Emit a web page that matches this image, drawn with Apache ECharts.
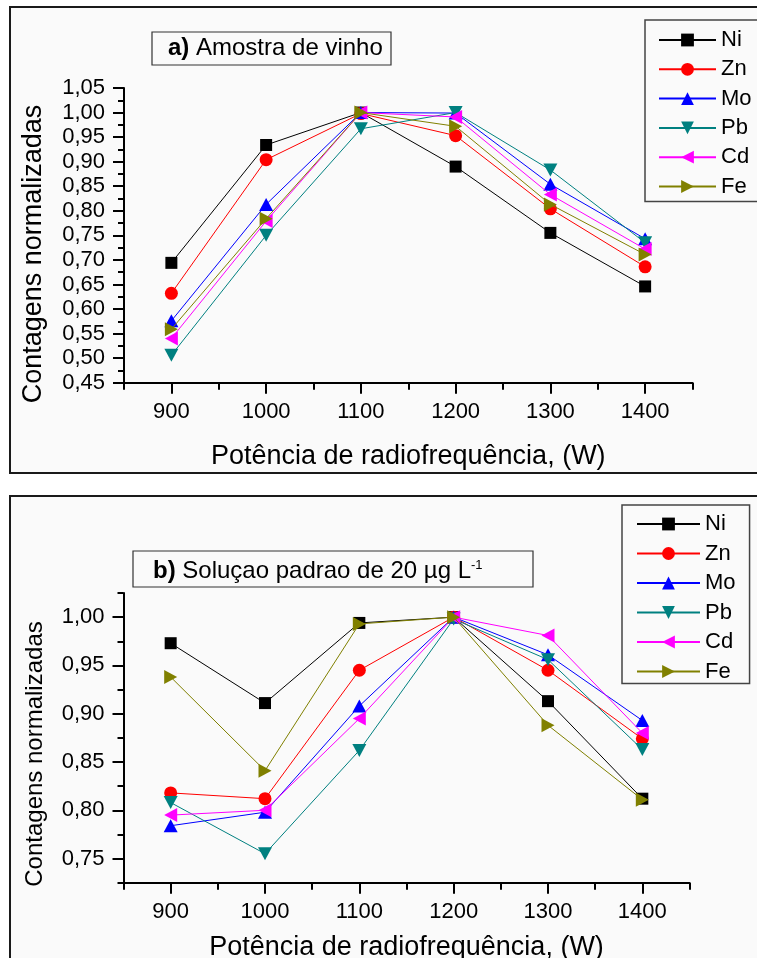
<!DOCTYPE html>
<html><head><meta charset="utf-8">
<script src="https://cdn.jsdelivr.net/npm/echarts@6/dist/echarts.min.js"></script>
<style>html,body{margin:0;padding:0;background:#fff}#c{width:757px;height:958px}</style>
</head><body><div id="c"></div>
<script>
// ---- data ----
const powers = [900, 1000, 1100, 1200, 1300, 1400];
const elements = ['Ni', 'Zn', 'Mo', 'Pb', 'Cd', 'Fe'];

// a) Amostra de vinho
const niA = [0.694, 0.934, 1.000, 0.890, 0.755, 0.646];
const znA = [0.632, 0.904, 0.998, 0.953, 0.804, 0.686];
const moA = [0.576, 0.813, 1.000, 0.999, 0.854, 0.743];
const pbA = [0.506, 0.750, 0.967, 1.000, 0.883, 0.735];
const cdA = [0.540, 0.779, 1.000, 0.991, 0.833, 0.722];
const feA = [0.559, 0.784, 1.000, 0.972, 0.813, 0.711];

// b) Soluçao padrao de 20 µg L-1
const niB = [0.973, 0.911, 0.994, 1.000, 0.913, 0.812];
const znB = [0.818, 0.812, 0.945, 1.000, 0.945, 0.874];
const moB = [0.784, 0.798, 0.908, 1.000, 0.961, 0.893];
const pbB = [0.808, 0.755, 0.862, 0.998, 0.956, 0.863];
const cdB = [0.795, 0.800, 0.895, 1.000, 0.981, 0.880];
const feB = [0.938, 0.841, 0.993, 1.000, 0.888, 0.811];

// tick labels
const xMajorTicks = [900, 1000, 1100, 1200, 1300, 1400];
const xMinorTicks = [850, 950, 1050, 1150, 1250, 1350, 1450];
const yTicksA = [0.45, 0.50, 0.55, 0.60, 0.65, 0.70, 0.75, 0.80, 0.85, 0.90, 0.95, 1.00, 1.05];
const yMinorA = [0.475, 0.525, 0.575, 0.625, 0.675, 0.725, 0.775, 0.825, 0.875, 0.925, 0.975, 1.025];
const yTicksB = [0.75, 0.80, 0.85, 0.90, 0.95, 1.00];
const yMinorB = [0.725, 0.775, 0.825, 0.875, 0.925, 0.975, 1.025];

const titleA = 'Amostra de vinho';
const titleB = 'Soluçao padrao de 20 µg L';
const xName = 'Potência de radiofrequência, (W)';
const yName = 'Contagens normalizadas';

// ---- styles ----
const FONT = '"Liberation Sans", Arial, sans-serif';
const colors = ['#000000', '#ff0000', '#0000ff', '#008080', '#ff00ff', '#808000'];
const symbols = [
  'rect', 'circle', 'triangle',
  'path://M0,0 L10,0 L5,10 Z',
  'path://M10,0 L10,10 L0,5 Z',
  'path://M0,0 L10,5 L0,10 Z'
];
const symSizes = [[12, 12], [13, 13], [14, 13], [14, 13], [13, 14], [13, 14]];

const seriesA = [niA, znA, moA, pbA, cdA, feA];
const seriesB = [niB, znB, moB, pbB, cdB, feB];

function pairs(vals) { return powers.map((p, i) => [p, vals[i]]); }
function fmtY(v) { return v.toFixed(2).replace('.', ','); }
function fmtX(v) { return String(Math.round(v)); }

function xAxes(grid, gap) {
  return [{
    gridIndex: grid, type: 'value', min: 850, max: 1450, position: 'bottom',
    axisLine: { onZero: false, lineStyle: { color: '#000', width: 2 } },
    axisTick: { customValues: xMajorTicks, length: 11, lineStyle: { color: '#000', width: 2 } },
    axisLabel: { customValues: xMajorTicks, formatter: fmtX, fontSize: 22, fontFamily: FONT, color: '#000', margin: 18 },
    splitLine: { show: false },
    name: xName, nameLocation: 'middle', nameGap: gap,
    nameTextStyle: { fontSize: 27, fontFamily: FONT, color: '#000' }
  }, {
    gridIndex: grid, type: 'value', min: 850, max: 1450, position: 'bottom',
    axisLine: { show: false, onZero: false },
    axisTick: { customValues: xMinorTicks, length: 7, lineStyle: { color: '#000', width: 2 } },
    axisLabel: { show: false }, splitLine: { show: false }
  }];
}
function yAxes(grid, min, max, major, minor) {
  return [{
    gridIndex: grid, type: 'value', min: min, max: max, position: 'left',
    axisLine: { show: true, onZero: false, lineStyle: { color: '#000', width: 2 } },
    axisTick: { show: true, customValues: major, length: 11, lineStyle: { color: '#000', width: 2 } },
    axisLabel: { customValues: major, formatter: fmtY, fontSize: 22, fontFamily: FONT, color: '#000', margin: 19 },
    splitLine: { show: false }
  }, {
    gridIndex: grid, type: 'value', min: min, max: max, position: 'left', offset: 0,
    axisLine: { show: false, onZero: false },
    axisTick: { show: true, customValues: minor, length: 6, lineStyle: { color: '#000', width: 2 } },
    axisLabel: { show: false }, splitLine: { show: false }
  }];
}

const series = [];
[seriesA, seriesB].forEach((set, g) => {
  set.forEach((vals, i) => {
    series.push({
      name: elements[i], type: 'line',
      xAxisIndex: g * 2, yAxisIndex: g * 2,
      data: pairs(vals),
      symbol: symbols[i], symbolSize: symSizes[i],
      showSymbol: true,
      lineStyle: { color: colors[i], width: 1 },
      itemStyle: { color: colors[i] },
      emphasis: { disabled: true },
      z: 3 + i
    });
  });
});

function legend(left, top, padding, itemWidth, gap) {
  return {
    data: elements, orient: 'vertical', left: left, top: top, padding: padding,
    itemWidth: itemWidth, itemHeight: 16, itemGap: gap,
    borderColor: '#444', borderWidth: 1.5, backgroundColor: 'transparent',
    selectedMode: false,
    textStyle: { fontSize: 22, fontFamily: FONT, color: '#000', lineHeight: 22 }
  };
}

const option = {
  animation: false,
  backgroundColor: '#ffffff',
  grid: [
    { left: 124, top: 88, width: 568.5, height: 294.7, outerBoundsMode: 'none', containLabel: false },
    { left: 123.5, top: 593, width: 566, height: 289.7, outerBoundsMode: 'none', containLabel: false }
  ],
  xAxis: [...xAxes(0, 60), ...xAxes(1, 51)],
  yAxis: [...yAxes(0, 0.45, 1.05, yTicksA, yMinorA), ...yAxes(1, 0.725, 1.025, yTicksB, yMinorB)],
  legend: [
    legend(645, 20, [9, 8, 4, 13], 57, 7.3),
    legend(622, 505, [8, 14, 1, 14], 63, 7.5)
  ],
  graphic: [
    { type: 'rect', z: -100, shape: { x: 10, y: 7, width: 800, height: 466 },
      style: { fill: '#fafafa', stroke: '#1a1a1a', lineWidth: 2 } },
    { type: 'rect', z: -100, shape: { x: 10, y: 496, width: 800, height: 500 },
      style: { fill: '#fafafa', stroke: '#1a1a1a', lineWidth: 2 } },
    { type: 'rect', z: 50, shape: { x: 152, y: 32, width: 239, height: 33 },
      style: { fill: '#fafafa', stroke: '#333', lineWidth: 1.2 } },
    { type: 'text', z: 51, x: 168, y: 48.5,
      style: { text: '{b|a)} ' + titleA, fontSize: 24, fontFamily: FONT, fill: '#000',
        verticalAlign: 'middle', align: 'left',
        rich: { b: { fontWeight: 'bold', fontSize: 24, fontFamily: FONT, fill: '#000' } } } },
    { type: 'rect', z: 50, shape: { x: 133, y: 551, width: 400, height: 36 },
      style: { fill: '#fafafa', stroke: '#333', lineWidth: 1.2 } },
    { type: 'text', z: 51, x: 153, y: 571,
      style: { text: '{b|b)} ' + titleB + '{s|-1}', fontSize: 24, fontFamily: FONT, fill: '#000',
        verticalAlign: 'middle', align: 'left',
        rich: { b: { fontWeight: 'bold', fontSize: 24, fontFamily: FONT, fill: '#000' },
                s: { fontSize: 13, fontFamily: FONT, fill: '#000', verticalAlign: 'top' } } } },
    { type: 'text', z: 51, x: 34, y: 254, rotation: Math.PI / 2,
      style: { text: yName, fontSize: 27, fontFamily: FONT, fill: '#000', align: 'center', verticalAlign: 'middle' } },
    { type: 'text', z: 51, x: 35, y: 754, rotation: Math.PI / 2,
      style: { text: yName, fontSize: 24, fontFamily: FONT, fill: '#000', align: 'center', verticalAlign: 'middle' } }
  ],
  series: series
};

const chart = echarts.init(document.getElementById('c'), null, { renderer: 'canvas', width: 757, height: 958 });
chart.setOption(option);
</script>
</body></html>
